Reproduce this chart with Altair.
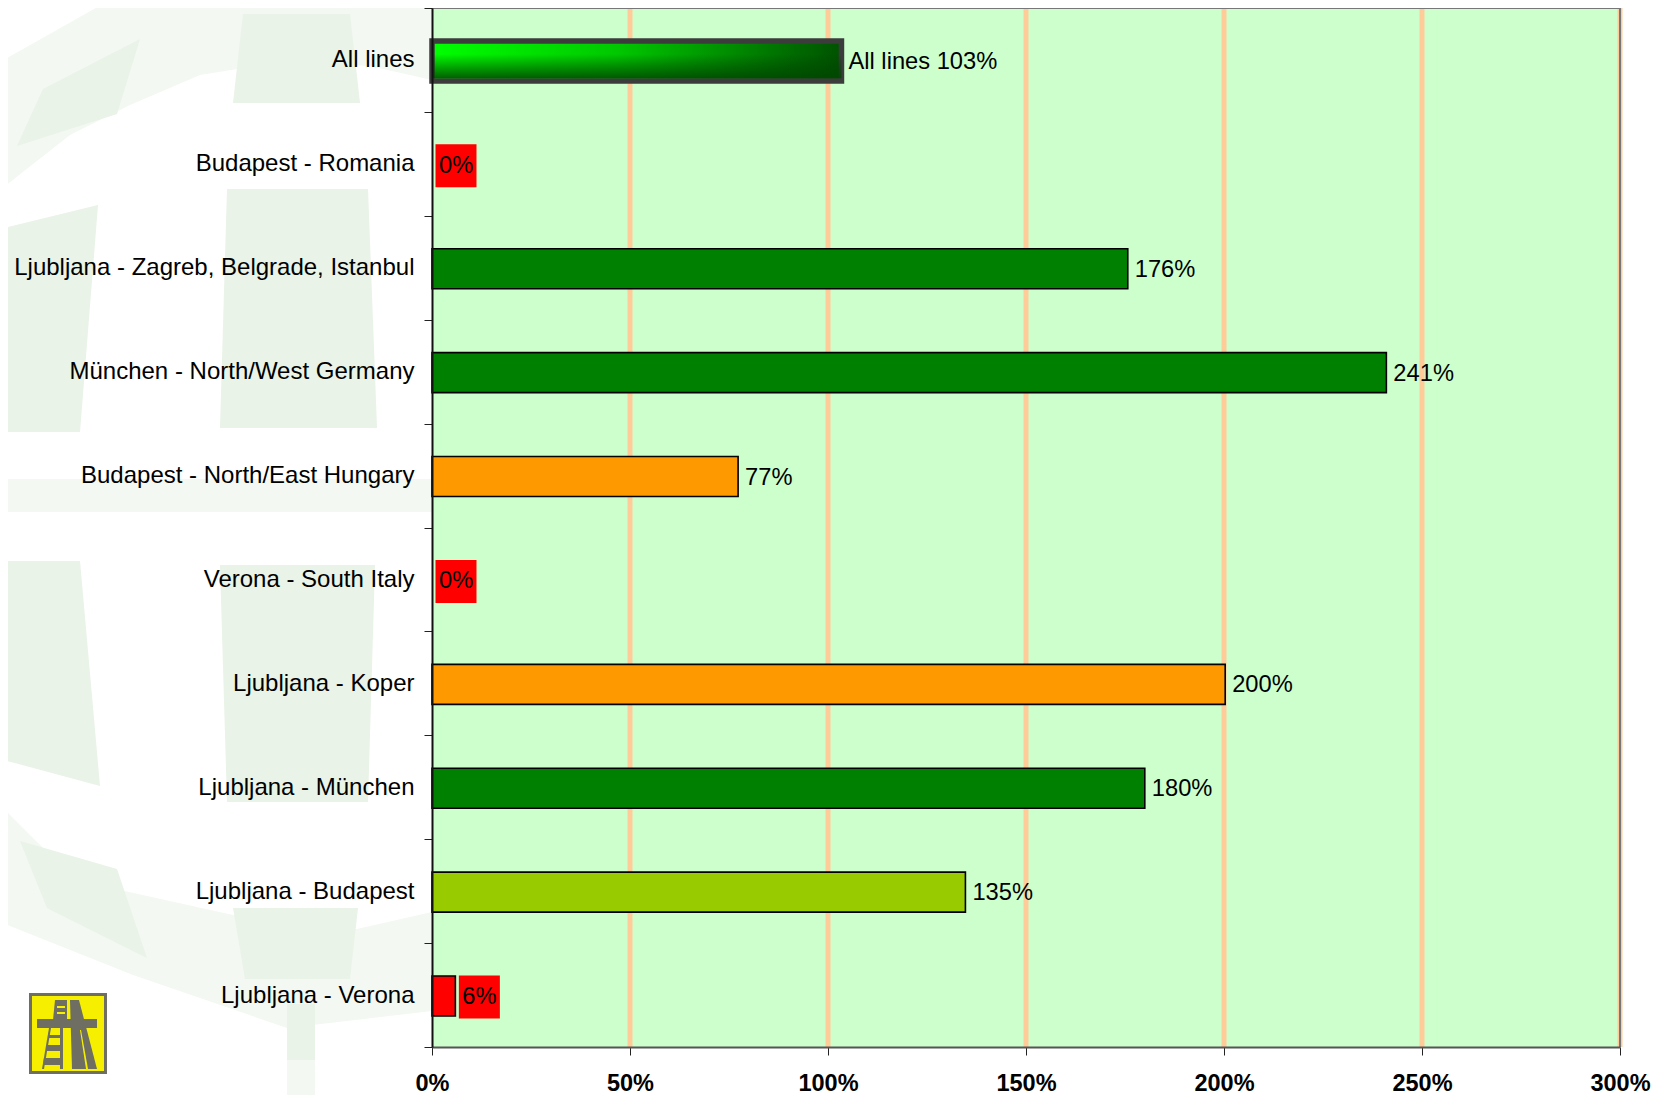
import altair as alt
import pandas as pd

categories = ["All lines", "Budapest - Romania", "Ljubljana - Zagreb, Belgrade, Istanbul",
              "München - North/West Germany", "Budapest - North/East Hungary", "Verona - South Italy",
              "Ljubljana - Koper", "Ljubljana - München", "Ljubljana - Budapest", "Ljubljana - Verona"]
values = [103.4, 0, 175.7, 241, 77.3, 0, 200.3, 180, 134.7, 5.9]
labels = ["All lines 103%", "0%", "176%", "241%", "77%", "0%", "200%", "180%", "135%", "6%"]
colors = ["#006000", "#FF0000", "#008000", "#008000", "#FF9900", "#FF0000", "#FF9900", "#008000", "#99CC00", "#FF0000"]
x_ticks = [0, 50, 100, 150, 200, 250, 300]
grid_ticks = [50, 100, 150, 200, 250, 300]

LIGHT = "#F3F8F2"
BLOCK = "#E9F3E7"
YEL = "#F6F000"
GREY = "#6E6E62"
# Decorative page watermark and logo, in page pixels (not chart data)
decor = [
    (LIGHT, [(110, 0), (432, 0), (432, 80), (370, 66), (280, 62), (200, 75), (130, 105), (70, 135), (0, 190), (0, 62)]),
    (LIGHT, [(0, 479), (432, 479), (432, 512), (0, 512)]),
    (LIGHT, [(0, 805), (50, 855), (120, 890), (233, 915), (357, 929), (432, 912), (432, 1011), (287, 1028), (133, 975), (0, 922)]),
    (LIGHT, [(287, 1060), (315, 1060), (315, 1095), (287, 1095)]),
    (BLOCK, [(243, 14), (350, 14), (360, 103), (233, 103)]),
    (BLOCK, [(227, 189), (368, 189), (377, 428), (220, 428)]),
    (BLOCK, [(0, 229), (98, 205), (80, 432), (0, 432)]),
    (BLOCK, [(140, 39), (117, 114), (17, 146), (43, 89)]),
    (BLOCK, [(220, 565), (375, 565), (368, 802), (227, 802)]),
    (BLOCK, [(0, 561), (80, 561), (100, 786), (0, 759)]),
    (BLOCK, [(20, 841), (117, 869), (147, 958), (47, 908)]),
    (BLOCK, [(233, 908), (358, 908), (350, 979), (245, 979)]),
    (BLOCK, [(287, 1004), (315, 1004), (315, 1060), (287, 1060)]),
    (GREY, [(29, 993), (107, 993), (107, 1074), (29, 1074)]),
    (YEL, [(32, 996), (104, 996), (104, 1071), (32, 1071)]),
    (GREY, [(70, 1000), (79, 1000), (97, 1069), (72, 1069)]),
    (YEL, [(80, 1030), (81, 1030), (88, 1069), (86, 1069)]),
    (GREY, [(55, 1000), (67, 1000), (67, 1020), (53, 1020)]),
    (YEL, [(57, 1006), (65, 1006), (65, 1008), (57, 1008)]),
    (YEL, [(57, 1012), (65, 1012), (65, 1014), (57, 1014)]),
    (GREY, [(37, 1019), (97, 1019), (97, 1028), (37, 1028)]),
    (GREY, [(49, 1035), (62, 1035), (62, 1038), (48, 1038)]),
    (GREY, [(47, 1045), (62, 1045), (62, 1051), (46, 1051)]),
    (GREY, [(44, 1058), (62, 1058), (62, 1065), (43, 1065)]),
    (GREY, [(49, 1028), (51, 1028), (44, 1069), (42, 1069)]),
    (GREY, [(60, 1028), (63, 1028), (63, 1069), (60, 1069)]),
]


def to_path(pts):
    return "M" + "L".join(f"{x - 432} {y - 8}" for x, y in pts) + "Z"


decor_df = pd.DataFrame({
    "fillc": [c for c, _ in decor],
    "path": [to_path(p) for _, p in decor],
    "order": list(range(len(decor))),
})

df = pd.DataFrame({"cat": categories, "v": values, "label": labels, "color": colors})
grid_df = pd.DataFrame({"t": grid_ticks})
extent_df = pd.DataFrame({"lo": [x_ticks[0]], "hi": [x_ticks[-1]]})

FONT = "Liberation Sans"
xscale = alt.Scale(domain=[0, 300], nice=False, zero=False)
yscale = alt.Scale(domain=categories, paddingInner=0, paddingOuter=0)
x_axis = alt.Axis(
    values=x_ticks, labelExpr="datum.value + '%'", tickSize=8, tickColor="#222222",
    domainColor="#555555", domainWidth=2, labelFont=FONT, labelFontSize=23.5, labelFontWeight="bold",
    labelColor="#000000", labelPadding=16, grid=False, zindex=1, labelOverlap=False, labelFlush=False)
y_axis = alt.Axis(
    tickBand="extent", tickSize=8, tickColor="#222222", domainColor="#111111", domainWidth=2,
    labelFont=FONT, labelFontSize=24, labelColor="#000000", labelPadding=10, zindex=1,
    labelLimit=600, grid=False)


def X(field):
    return alt.X(field, scale=xscale, title=None, axis=x_axis)


y_enc = alt.Y("cat:N", scale=yscale, title=None, axis=y_axis)

# size=4 makes a custom symbol path draw 1:1 in pixels
background = alt.Chart(decor_df).mark_point(filled=True, opacity=1, size=4, strokeWidth=0).encode(
    x=alt.value(0), y=alt.value(0),
    fill=alt.Fill("fillc:N", scale=None),
    shape=alt.Shape("path:N", scale=None),
    order=alt.Order("order:Q"),
)

plot_fill = alt.Chart(extent_df).mark_rect(color="#CCFFCC").encode(x=X("lo:Q"), x2="hi:Q")

grid = alt.Chart(grid_df).mark_rule(color="#FFCC99", strokeWidth=5).encode(x=X("t:Q"))

border_top = alt.Chart(extent_df).mark_rule(color="#777777", strokeWidth=2).encode(
    x=X("lo:Q"), x2="hi:Q", y=alt.value(0))
border_right = alt.Chart(extent_df).mark_rule(color="#777777", strokeWidth=2).encode(x=X("hi:Q"))

base = alt.Chart(df)

bars = base.transform_filter("datum.v > 0 && datum.cat != 'All lines'").mark_bar(
    size=40, stroke="#000000", strokeWidth=1.6, yOffset=1
).encode(x=X("v:Q"), y=y_enc, fill=alt.Fill("color:N", scale=None))

allbar_h = base.transform_filter("datum.cat == 'All lines'").mark_bar(
    size=40, stroke="#3C3C3C", strokeWidth=5.5, yOffset=1,
    fill=alt.Gradient(gradient="linear", x1=0, x2=1, y1=0, y2=0, stops=[
        alt.GradientStop(color="#00FF00", offset=0),
        alt.GradientStop(color="#00C800", offset=0.45),
        alt.GradientStop(color="#005200", offset=1)])
).encode(x=X("v:Q"), y=y_enc)

allbar_v = base.transform_filter("datum.cat == 'All lines'").mark_bar(
    size=34.5, yOffset=1,
    fill=alt.Gradient(gradient="linear", x1=0, x2=0, y1=0, y2=1, stops=[
        alt.GradientStop(color="rgba(0,60,0,0)", offset=0.3),
        alt.GradientStop(color="rgba(0,70,0,0.85)", offset=1)])
).encode(x=X("v:Q"), y=y_enc)

red_bg = base.transform_filter("datum.color == '#FF0000'").mark_rect(
    width=41, height=43, xOffset=24, yOffset=2, color="#FF0000"
).encode(x=X("v:Q"), y=y_enc)

text = base.mark_text(align="left", baseline="middle", font=FONT, fontSize=23.7, color="#000000", dx=7, dy=2).encode(
    x=X("v:Q"), y=y_enc, text="label:N")

chart = alt.layer(background, plot_fill, grid, border_top, border_right, bars, allbar_h, allbar_v, red_bg, text).properties(
    width=1188, height=1039,
    padding={"left": 424, "top": 0, "right": 34, "bottom": 48},
    autosize=alt.AutoSizeParams(type="none"),
    background="#FFFFFF",
).configure_view(stroke=None)

chart.save("out.html", embed_options={"renderer": "svg", "actions": False})
